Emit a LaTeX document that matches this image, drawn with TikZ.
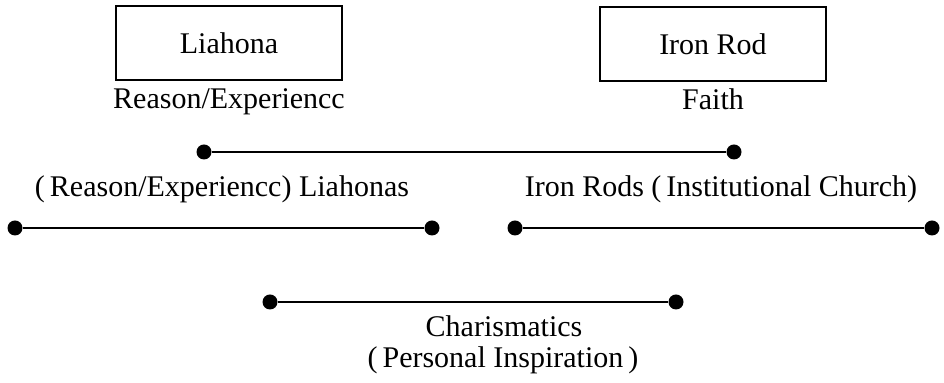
\documentclass[tikz,border=0pt]{standalone}
\usepackage{fontspec}
\setmainfont{Liberation Serif}
\begin{document}
\begin{tikzpicture}[x=0.5pt,y=-0.5pt,
  lbl/.style={font=\fontsize{15}{18}\selectfont, inner sep=0pt, anchor=base},
  box/.style={draw, line width=1pt, minimum width=113pt, minimum height=37pt, inner sep=0pt, font=\fontsize{15}{18}\selectfont},
  dot/.style={circle, fill, inner sep=0pt, minimum size=7.5pt},
  bar/.style={line width=1pt}]
\useasboundingbox (0,0) rectangle (944,383);
% boxes
\node[box] (lia) at (229,43) {Liahona};
\node[box] (iron) at (713,44) {Iron Rod};
\node[lbl] (re) at (229,109) {Reason/Experiencc};
\node[lbl] (faith) at (713,110) {Faith};
% top bar
\node[dot] (t1) at (204,152) {};
\node[dot] (t2) at (734,152) {};
\draw[bar] (t1) -- (t2);
% second row
\node[lbl] (lt) at (222,197) {(\,Reason/Experiencc) Liahonas};
\node[lbl] (rt) at (721,197) {Iron Rods (\,Institutional Church)};
\node[dot] (l1) at (15,228) {};
\node[dot] (l2) at (432,228) {};
\draw[bar] (l1) -- (l2);
\node[dot] (r1) at (515,228) {};
\node[dot] (r2) at (932,228) {};
\draw[bar] (r1) -- (r2);
% bottom bar
\node[dot] (c1) at (270,302) {};
\node[dot] (c2) at (676,302) {};
\draw[bar] (c1) -- (c2);
\node[lbl] (ch) at (504,337) {Charismatics};
\node[lbl] (pi) at (503,368) {(\,Personal Inspiration\,)};
\end{tikzpicture}
\end{document}
